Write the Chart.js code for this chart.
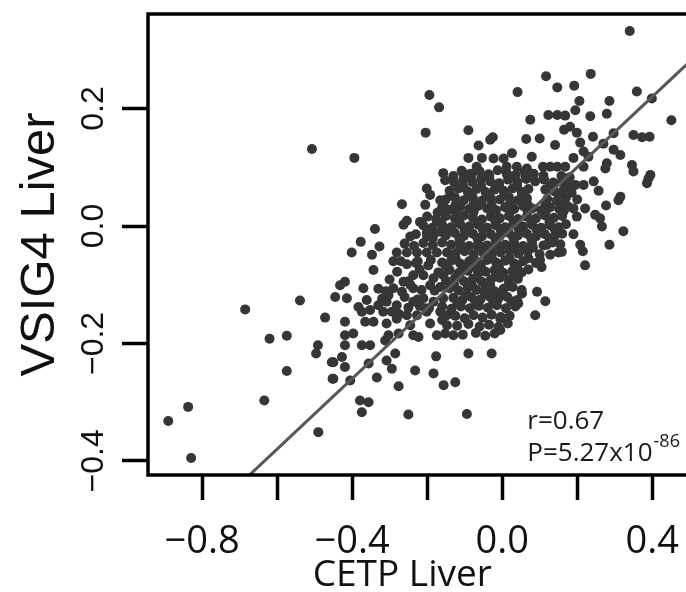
<!DOCTYPE html>
<html>
<head>
<meta charset="utf-8">
<script src="https://cdn.jsdelivr.net/npm/chart.js@4.4.0/dist/chart.umd.min.js"></script>
<style>
  html, body { margin: 0; padding: 0; background: #fff; overflow: hidden; }
  #wrap { width: 720px; height: 592px; }
</style>
</head>
<body>
<div id="wrap"><canvas id="cetpVsig4Chart" width="720" height="592"></canvas></div>
<script>
// CETP Liver (x) vs VSIG4 Liver (y), one dot per sample

// outlying / clearly separated samples
const outerSamples = [
  [-0.507,0.131],[-0.394,0.116],[-0.685,-0.142],[-0.539,-0.127],[-0.472,-0.156],[-0.620,-0.192],[-0.574,-0.187],
  [-0.491,-0.203],[-0.496,-0.217],[-0.454,-0.232],[-0.452,-0.260],[-0.574,-0.247],[-0.634,-0.297],[-0.837,-0.308],
  [-0.890,-0.332],[-0.829,-0.395],[-0.490,-0.351],
  [-0.194,0.223],[-0.168,0.202],[-0.204,0.159],
  [0.117,0.255],[0.041,0.228],[0.147,0.236],[0.192,0.239],[0.075,0.181],[0.123,0.189],[0.147,0.189],[0.168,0.188],
  [-0.090,0.163],[-0.025,0.151],[-0.032,0.147],[0.064,0.148],[0.100,0.149],[0.165,0.164],[0.141,0.138],[-0.063,0.137],
  [-0.090,0.116],[-0.054,0.116],[-0.023,0.115],[0.004,0.115],[0.026,0.124],[0.079,0.118],[-0.068,0.101],[0.012,0.101],
  [0.039,0.101],[0.066,0.098],[0.109,0.101],[0.128,0.101],[0.147,0.101],[0.168,0.101],[-0.104,0.090],[-0.157,0.090]
];

const rightSamples = [
  [0.340,0.332],[0.236,0.259],[0.359,0.229],[0.399,0.217],[0.206,0.213],[0.286,0.213],[0.195,0.197],[0.279,0.191],
  [0.235,0.187],[0.451,0.180],[0.181,0.169],[0.199,0.159],[0.242,0.152],[0.297,0.158],[0.350,0.155],[0.373,0.151],
  [0.393,0.152],[0.208,0.142],[0.270,0.140],[0.217,0.127],[0.297,0.130],[0.315,0.121],[0.190,0.116],[0.230,0.118],
  [0.279,0.107],[0.275,0.098],[0.346,0.104],[0.350,0.093],[0.217,0.101],[0.395,0.087],
  [0.390,0.081],[0.386,0.073],[0.257,0.060],[0.315,0.050],[0.310,0.044],[0.277,0.035],[0.195,0.070],[0.217,0.070],
  [0.244,0.076],[0.190,0.030],[0.221,0.030],[0.248,0.019],[0.261,0.013],[0.199,0.016],[0.266,-0.001],[0.323,-0.009],
  [0.190,-0.014],[0.208,-0.032],[0.286,-0.032],[0.215,-0.043],[0.221,-0.067],
  [0.093,-0.112],[0.115,-0.128],[0.088,-0.152],[0.053,-0.115],[0.043,-0.132],[-0.005,-0.158],[0.128,-0.049],
  [0.159,-0.044],[0.119,-0.032],[0.101,-0.058]
];

const lowerSamples = [
  [-0.130,-0.186],[-0.090,-0.217],[-0.028,-0.217],[-0.125,-0.266],[-0.094,-0.320],[-0.005,-0.177],
  [-0.419,-0.186],[-0.397,-0.183],[-0.419,-0.203],[-0.374,-0.203],[-0.352,-0.203],[-0.312,-0.195],[-0.303,-0.186],
  [-0.276,-0.183],[-0.237,-0.186],[-0.223,-0.189],[-0.174,-0.186],[-0.152,-0.183],[-0.450,-0.232],[-0.427,-0.223],
  [-0.419,-0.240],[-0.450,-0.260],[-0.356,-0.234],[-0.405,-0.263],[-0.308,-0.229],[-0.285,-0.217],[-0.294,-0.243],
  [-0.334,-0.258],[-0.232,-0.246],[-0.176,-0.222],[-0.183,-0.251],[-0.276,-0.273],[-0.156,-0.271],[-0.379,-0.297],
  [-0.356,-0.300],[-0.374,-0.317],[-0.250,-0.321]
];

const midLeftSamples = [
  [-0.201,0.064],[-0.192,0.053],[-0.165,0.044],[-0.267,0.037],[-0.205,0.036],[-0.152,0.030],[-0.254,0.009],
  [-0.263,0.002],[-0.219,0.007],[-0.174,0.007],[-0.339,-0.005],[-0.245,-0.018],[-0.201,-0.012],[-0.183,-0.015],
  [-0.165,-0.010],[-0.377,-0.027],[-0.327,-0.035],[-0.401,-0.045],[-0.347,-0.049],
  [-0.281,-0.045],[-0.254,-0.045],[-0.227,-0.045],[-0.201,-0.045],[-0.174,-0.045],[-0.147,-0.045],
  [-0.343,-0.075],[-0.254,-0.065],[-0.197,-0.067],[-0.237,-0.084],[-0.210,-0.084],[-0.183,-0.089],[-0.157,-0.084],
  [-0.263,-0.095],[-0.192,-0.101],[-0.165,-0.104],[-0.290,-0.106],[-0.267,-0.112],[-0.237,-0.106],[-0.432,-0.101],
  [-0.419,-0.095],[-0.445,-0.121],[-0.414,-0.123],[-0.370,-0.106],
  [-0.303,-0.118],[-0.308,-0.129],[-0.281,-0.135],[-0.237,-0.129],[-0.210,-0.123],[-0.183,-0.129],[-0.157,-0.123],
  [-0.361,-0.126],[-0.352,-0.143],[-0.383,-0.138],[-0.374,-0.146],[-0.419,-0.163],[-0.365,-0.163],[-0.343,-0.163],
  [-0.317,-0.146],[-0.294,-0.146],[-0.281,-0.158],[-0.308,-0.166],[-0.254,-0.152],[-0.227,-0.152],[-0.201,-0.146],
  [-0.165,-0.146],[-0.147,-0.152],[-0.192,-0.166],[-0.245,-0.169],[-0.147,-0.169],
  [-0.290,-0.060],[-0.245,-0.100],[-0.205,-0.140],[-0.275,-0.150],[-0.330,-0.135],[-0.225,-0.060],[-0.180,-0.110],
  [-0.160,-0.160]
];

// the dense middle of the cloud, row by row from top to bottom
const coreSamples = [
  [-0.108,0.094],[-0.084,0.089],[-0.060,0.093],[-0.036,0.088],[-0.012,0.095],[0.012,0.090],[0.036,0.087],[0.060,0.093],[0.084,0.089],
  [-0.152,0.078],[-0.128,0.074],[-0.104,0.079],[-0.080,0.075],[-0.056,0.080],[-0.032,0.076],[-0.008,0.073],[0.016,0.079],
  [0.040,0.075],[0.064,0.080],[0.088,0.076],[0.112,0.079],[0.136,0.074],[0.160,0.078],[0.180,0.083],
  [-0.140,0.060],[-0.116,0.064],[-0.092,0.059],[-0.068,0.063],[-0.044,0.058],[-0.020,0.062],[0.004,0.060],[0.028,0.064],
  [0.052,0.058],[0.070,0.063],[0.115,0.062],[0.140,0.059],[0.165,0.064],[0.185,0.057],
  [-0.150,0.045],[-0.126,0.049],[-0.102,0.044],[-0.078,0.048],[-0.054,0.043],[-0.030,0.047],[-0.006,0.045],[0.018,0.049],
  [0.042,0.044],[0.066,0.047],[0.120,0.046],[0.145,0.043],[0.170,0.048],[0.200,0.045],
  [-0.160,0.032],[-0.136,0.028],[-0.112,0.033],[-0.088,0.029],[-0.064,0.034],[-0.040,0.030],[-0.016,0.027],[0.008,0.032],
  [0.032,0.029],[0.056,0.034],[0.080,0.030],[0.104,0.027],[0.128,0.032],[0.152,0.029],[0.176,0.033],
  [-0.200,0.016],[-0.176,0.012],[-0.150,0.017],[-0.126,0.013],[-0.102,0.018],[-0.078,0.014],[-0.054,0.011],[-0.030,0.016],
  [-0.006,0.013],[0.018,0.017],[0.042,0.012],[0.066,0.016],[0.090,0.013],[0.114,0.018],[0.138,0.014],[0.160,0.017],
  [-0.210,0.001],[-0.186,-0.003],[-0.160,0.002],[-0.136,-0.002],[-0.112,0.003],[-0.088,-0.001],[-0.064,0.002],[-0.040,-0.003],
  [-0.016,0.001],[0.008,-0.002],[0.032,0.003],[0.056,-0.001],[0.080,0.002],[0.104,-0.003],[0.128,0.001],[0.150,-0.002],[0.170,0.003],
  [-0.230,-0.014],[-0.200,-0.018],[-0.150,-0.016],[-0.126,-0.012],[-0.102,-0.017],[-0.078,-0.013],[-0.054,-0.018],[-0.030,-0.014],
  [-0.006,-0.017],[0.018,-0.012],[0.042,-0.016],[0.066,-0.013],[0.090,-0.018],[0.114,-0.014],[0.140,-0.017],[0.160,-0.013],
  [-0.260,-0.030],[-0.235,-0.034],[-0.210,-0.029],[-0.185,-0.033],[-0.160,-0.028],[-0.136,-0.032],[-0.112,-0.029],[-0.088,-0.034],
  [-0.064,-0.030],[-0.040,-0.033],[-0.016,-0.028],[0.008,-0.032],[0.032,-0.029],[0.056,-0.034],[0.080,-0.030],[0.110,-0.033],
  [0.135,-0.028],[0.155,-0.031],
  [-0.125,-0.047],[-0.100,-0.043],[-0.076,-0.048],[-0.052,-0.044],[-0.028,-0.049],[-0.004,-0.045],[0.020,-0.042],[0.044,-0.047],
  [0.068,-0.044],[0.100,-0.048],[0.150,-0.045],
  [-0.270,-0.060],[-0.230,-0.063],[-0.190,-0.058],[-0.160,-0.062],[-0.136,-0.059],[-0.112,-0.064],[-0.088,-0.060],[-0.064,-0.063],
  [-0.040,-0.058],[-0.016,-0.062],[0.008,-0.059],[0.032,-0.064],[0.056,-0.060],[0.090,-0.063],[0.105,-0.070],
  [-0.280,-0.078],[-0.220,-0.074],[-0.170,-0.079],[-0.140,-0.075],[-0.116,-0.080],[-0.092,-0.076],[-0.068,-0.073],[-0.044,-0.078],
  [-0.020,-0.075],[0.004,-0.080],[0.028,-0.076],[0.052,-0.079],[0.070,-0.074],
  [-0.300,-0.091],[-0.250,-0.094],[-0.150,-0.093],[-0.126,-0.089],[-0.102,-0.094],[-0.078,-0.090],[-0.054,-0.095],[-0.030,-0.091],
  [-0.006,-0.088],[0.018,-0.093],[0.042,-0.090],
  [-0.330,-0.107],[-0.310,-0.111],[-0.215,-0.109],[-0.140,-0.106],[-0.116,-0.110],[-0.092,-0.105],[-0.068,-0.109],[-0.044,-0.106],
  [-0.020,-0.111],[0.004,-0.107],[0.028,-0.104],[0.052,-0.109],
  [-0.320,-0.124],[-0.260,-0.121],[-0.225,-0.125],[-0.130,-0.122],[-0.106,-0.126],[-0.082,-0.121],[-0.058,-0.125],[-0.034,-0.120],
  [-0.010,-0.124],[0.014,-0.121],[0.040,-0.126],
  [-0.250,-0.139],[-0.220,-0.136],[-0.195,-0.140],[-0.160,-0.137],[-0.135,-0.141],[-0.110,-0.137],[-0.086,-0.140],[-0.062,-0.136],
  [-0.038,-0.139],[-0.014,-0.135],[0.010,-0.140],[0.035,-0.137],
  [-0.125,-0.153],[-0.100,-0.157],[-0.076,-0.152],[-0.052,-0.156],[-0.028,-0.151],[-0.004,-0.155],[0.020,-0.153],
  [-0.120,-0.170],[-0.090,-0.167],[-0.060,-0.171],[-0.035,-0.168],[-0.010,-0.172],[0.015,-0.166],
  [-0.105,-0.185],[-0.070,-0.182],[-0.045,-0.187],[-0.020,-0.183]
];

// extra samples sitting between the core rows
const coreFillSamples = [
  [-0.130,0.085],[-0.082,0.086],[-0.034,0.085],[0.014,0.086],[0.062,0.085],[0.110,0.086],[0.158,0.085],
  [-0.104,0.067],[-0.056,0.068],[-0.008,0.067],[0.040,0.068],[0.128,0.067],[0.175,0.068],
  [-0.138,0.053],[-0.090,0.055],[-0.042,0.054],[0.006,0.055],[0.054,0.054],[0.158,0.055],
  [-0.124,0.036],[-0.076,0.037],[-0.028,0.036],[0.020,0.037],[0.068,0.036],[0.116,0.037],[0.164,0.036],
  [-0.172,0.023],[-0.124,0.025],[-0.076,0.024],[-0.028,0.025],[0.020,0.024],[0.068,0.025],[0.116,0.024],[0.164,0.025],
  [-0.164,0.006],[-0.114,0.007],[-0.066,0.006],[-0.018,0.007],[0.030,0.006],[0.078,0.007],[0.126,0.006],
  [-0.198,-0.007],[-0.148,-0.005],[-0.100,-0.006],[-0.052,-0.005],[-0.004,-0.006],[0.044,-0.005],[0.092,-0.006],[0.140,-0.005],
  [-0.185,-0.021],[-0.114,-0.022],[-0.066,-0.021],[-0.018,-0.022],[0.030,-0.021],[0.078,-0.022],[0.126,-0.021],
  [-0.112,-0.038],[-0.064,-0.036],[-0.016,-0.037],[0.032,-0.036],[0.082,-0.037],
  [-0.124,-0.055],[-0.076,-0.054],[-0.028,-0.055],[0.020,-0.054],[0.070,-0.055],
  [-0.150,-0.069],[-0.104,-0.071],[-0.056,-0.070],[-0.008,-0.071],[0.040,-0.070],
  [-0.114,-0.086],[-0.066,-0.085],[-0.018,-0.086],[0.030,-0.085],
  [-0.128,-0.100],[-0.080,-0.102],[-0.032,-0.101],[0.016,-0.102],
  [-0.094,-0.117],[-0.046,-0.116],[0.002,-0.117],
  [-0.120,-0.130],[-0.072,-0.128],[-0.024,-0.129],[0.024,-0.128]
];

const xTicks = [-0.8, -0.6, -0.4, -0.2, 0.0, 0.2, 0.4];
const xTickLabels = ['\u22120.8', '', '\u22120.4', '', '0.0', '', '0.4'];
const yTicks = [-0.4, -0.2, 0.0, 0.2];
const yTickLabels = ['\u22120.4', '\u22120.2', '0.0', '0.2'];

const fitLine = { slope: 0.60, intercept: -0.020 };
const statLines = ['r=0.67', 'P=5.27x10'];
const statExponent = '-86';

const xMin = -0.944, xMax = 0.514;
const yMin = -0.424, yMax = 0.361;

const allSamples = [].concat(outerSamples, rightSamples, lowerSamples, midLeftSamples, coreSamples, coreFillSamples);

// thick box around the plot + r / P note
const plotBox = {
    id: 'plotBox',
    afterDatasetsDraw(chart) {
        const ctx = chart.ctx;
        const a = chart.chartArea;
        ctx.save();
        ctx.lineWidth = 3.5;
        ctx.strokeStyle = '#000';
        ctx.strokeRect(a.left, a.top, a.right - a.left, a.bottom - a.top);

        const xs = chart.scales.x, ys = chart.scales.y;
        const tx = xs.getPixelForValue(0.067);
        ctx.fillStyle = '#1a1a1a';
        ctx.textAlign = 'left';
        ctx.textBaseline = 'alphabetic';
        ctx.font = '26px "Open Sans"';
        ctx.fillText(statLines[0], tx, ys.getPixelForValue(-0.345));
        const py = ys.getPixelForValue(-0.401);
        ctx.fillText(statLines[1], tx, py);
        const w = ctx.measureText(statLines[1]).width;
        ctx.font = '18px "Open Sans"';
        ctx.fillText(statExponent, tx + w + 1, py - 14);
        ctx.restore();
    }
};

new Chart(document.getElementById('cetpVsig4Chart'), {
    type: 'scatter',
    data: {
        datasets: [{
            data: allSamples.map(p => ({ x: p[0], y: p[1] })),
            backgroundColor: '#363636',
            borderWidth: 0,
            pointRadius: 5,
            pointHoverRadius: 5,
            order: 1
        }, {
            type: 'line',
            data: [xMin, xMax].map(x => ({ x: x, y: fitLine.intercept + fitLine.slope * x })),
            borderColor: '#575757',
            borderWidth: 3,
            pointRadius: 0,
            fill: false,
            clip: 0,
            order: 0
        }]
    },
    options: {
        responsive: false,
        animation: false,
        devicePixelRatio: 1,
        layout: { padding: { left: 0, top: 14, right: 25, bottom: 0 } },
        plugins: {
            legend: { display: false },
            tooltip: { enabled: false }
        },
        scales: {
            x: {
                type: 'linear',
                min: xMin,
                max: xMax,
                afterBuildTicks: s => { s.ticks = xTicks.map(v => ({ value: v })); },
                afterFit: s => { s.height = 117; s.paddingLeft = 0; s.paddingRight = 0; },
                border: { display: false },
                grid: { drawOnChartArea: false, drawTicks: true, tickLength: 25, tickWidth: 3.5, color: '#000' },
                ticks: {
                    autoSkip: false,
                    minRotation: 0,
                    maxRotation: 0,
                    padding: 19,
                    color: '#111',
                    font: { family: '"Open Sans"', size: 38 },
                    callback: v => xTickLabels[xTicks.findIndex(t => Math.abs(t - v) < 1e-9)]
                },
                title: {
                    display: true,
                    text: 'CETP Liver    ',
                    color: '#111',
                    padding: { top: 0, bottom: 0 },
                    font: { family: '"Open Sans"', size: 37, lineHeight: 0.92 }
                }
            },
            y: {
                type: 'linear',
                min: yMin,
                max: yMax,
                afterBuildTicks: s => { s.ticks = yTicks.map(v => ({ value: v })); },
                afterFit: s => { s.width = 148; s.paddingTop = 0; s.paddingBottom = 0; },
                border: { display: false },
                grid: { drawOnChartArea: false, drawTicks: true, tickLength: 26, tickWidth: 3.5, color: '#000' },
                ticks: {
                    minRotation: 90,
                    maxRotation: 90,
                    crossAlign: 'center',
                    padding: -4,
                    color: '#111',
                    font: { family: '"Liberation Sans", Arial, sans-serif', size: 32 },
                    callback: v => yTickLabels[yTicks.findIndex(t => Math.abs(t - v) < 1e-9)]
                },
                title: {
                    display: true,
                    text: 'VSIG4 Liver',
                    color: '#111',
                    padding: { top: 11, bottom: 0 },
                    font: { family: '"Liberation Sans", Arial, sans-serif', size: 49 }
                }
            }
        }
    },
    plugins: [plotBox]
});
</script>
</body>
</html>
